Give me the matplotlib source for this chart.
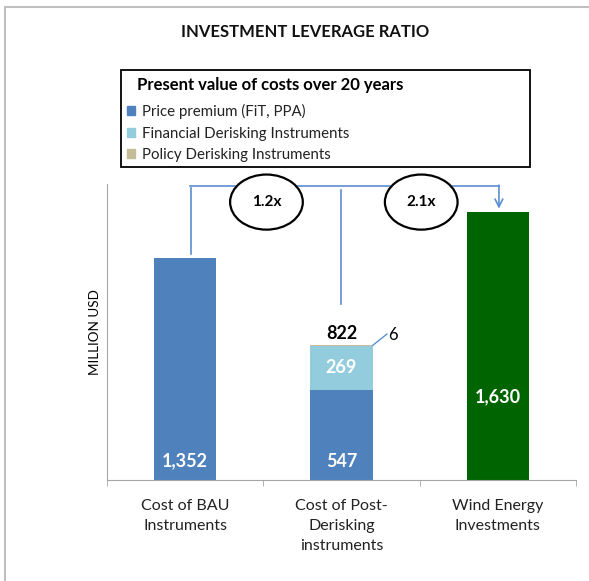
import matplotlib
matplotlib.use('Agg')
import matplotlib.pyplot as plt
from matplotlib.patches import Patch, Ellipse, Rectangle

plt.rcParams['font.family'] = ['Lato', 'DejaVu Sans']

# data
categories = ['Cost of BAU\nInstruments', 'Cost of Post-\nDerisking\ninstruments', 'Wind Energy\nInvestments']
price_premium = [1352, 547, 0]
financial = [0, 269, 0]
policy = [0, 6, 0]
wind = [0, 0, 1630]
ratios = ['1.2x', '2.1x']

c_price = '#4F81BD'
c_fin = '#93CDDD'
c_pol = '#C4BD97'
c_wind = '#006400'
c_line = '#5B8FD0'

fig = plt.figure(figsize=(5.89, 5.81), dpi=100)
ax = fig.add_axes([107/589, 1 - 480/581, (576 - 107)/589, (480 - 184)/581])

x = range(len(categories))
w = 0.4
fin_bottom = price_premium
pol_bottom = [a + b for a, b in zip(price_premium, financial)]
ax.bar(x, price_premium, w, color=c_price)
ax.bar(x, financial, w, bottom=fin_bottom, color=c_fin)
ax.bar(x, policy, w, bottom=pol_bottom, color=c_pol)
ax.bar(x, wind, w, color=c_wind)

ax.set_xlim(-0.5, 2.5)
ax.set_ylim(0, 1800)

# axes styling
for s in ['top', 'right']:
    ax.spines[s].set_visible(False)
for s in ['left', 'bottom']:
    ax.spines[s].set_color('#A6A6A6')
ax.set_yticks([])
ax.set_xticks(list(x))
ax.set_xticklabels(categories, fontsize=11.5, color='#222222', linespacing=1.55)
ax.tick_params(axis='x', which='major', length=0, pad=13.5)
ax.set_xticks([-0.5, 0.5, 1.5, 2.5], minor=True)
ax.tick_params(axis='x', which='minor', length=4, color='#A6A6A6')
ax.set_ylabel('MILLION USD', fontsize=9.7, labelpad=4)

# value labels
lab = dict(color='white', fontsize=13, fontweight='bold', ha='center', va='center')
ax.text(0, 115, f'{price_premium[0]:,}', **lab)
ax.text(1, 115, f'{price_premium[1]:,}', **lab)
ax.text(1, price_premium[1] + financial[1] / 2, f'{financial[1]:,}', **lab)
ax.text(2, 505, f'{wind[2]:,}', **lab)
total_post = price_premium[1] + financial[1] + policy[1]
ax.text(1, total_post + 15, f'{total_post:,}', fontsize=13, fontweight='bold',
        ha='center', va='bottom')
ax.plot([1 + w / 2, 1.29], [total_post - 3, total_post + 65], color=c_line, lw=1)
ax.text(1.3, total_post + 58, f'{policy[1]}', fontsize=12, ha='left', va='center')

# leverage connectors
top = 1788
ax.plot([0.03, 2.01], [top, top], color=c_line, lw=1.2, clip_on=False)
ax.plot([0.04, 0.04], [1375, top - 15], color=c_line, lw=1.2, clip_on=False)
ax.plot([1.0, 1.0], [1070, top - 25], color=c_line, lw=1.2, clip_on=False)
ax.annotate('', xy=(2.007, 1650), xytext=(2.007, top + 5),
            arrowprops=dict(arrowstyle='->', color=c_line, lw=1.2,
                            shrinkA=0, shrinkB=0, mutation_scale=14),
            annotation_clip=False)
for cx, r in zip([0.52, 1.51], ratios):
    ax.add_patch(Ellipse((cx, 1690), 0.465, 335, facecolor='white',
                         edgecolor='black', lw=1.6, clip_on=False, zorder=5))
    ax.text(cx, 1690, r, fontsize=11, fontweight='bold', ha='center',
            va='center', zorder=6)

# title and outer frame
fig.text(305/589, 1 - 32/581, 'INVESTMENT LEVERAGE RATIO', fontsize=12,
         fontweight='bold', ha='center', va='center', color='#111111')
fig.patches.append(Rectangle((5/589, -0.05), 1.1, 1 - 7/581 + 0.05,
                             transform=fig.transFigure, fill=False,
                             edgecolor='#BFBFBF', lw=1.5))

# legend box
fig.patches.append(Rectangle((121/589, 1 - 167/581), (530 - 121)/589, 97/581,
                             transform=fig.transFigure, facecolor='white',
                             edgecolor='black', lw=1.3))
fig.text(137/589, 1 - 85/581, 'Present value of costs over 20 years',
         fontsize=12, fontweight='bold', ha='left', va='center')
handles = [Patch(color=c_price), Patch(color=c_fin), Patch(color=c_pol)]
labels = ['Price premium (FiT, PPA)', 'Financial Derisking Instruments',
          'Policy Derisking Instruments']
fig.legend(handles, labels, loc='upper left',
           bbox_to_anchor=(124/589, 1 - 101/581), frameon=False,
           fontsize=10.8, handlelength=0.55, handleheight=0.55,
           handletextpad=0.45, labelspacing=0.5, borderaxespad=0,
           borderpad=0.2, labelcolor='#222222')

fig.savefig('out.png', dpi=100)
